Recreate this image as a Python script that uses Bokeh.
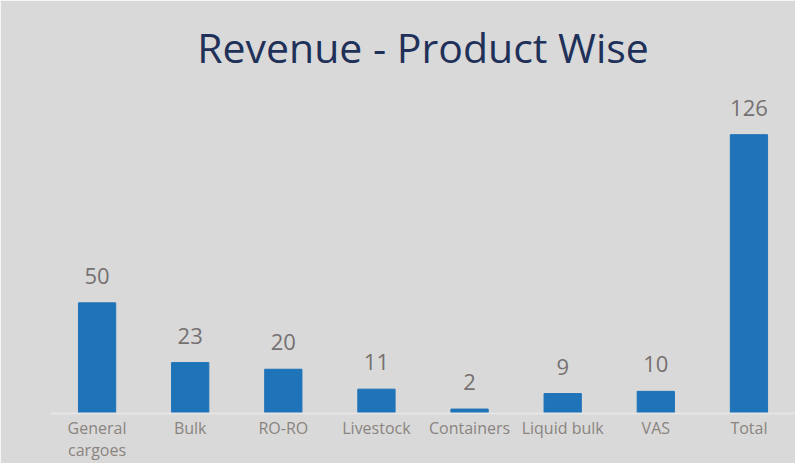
from bokeh.plotting import figure
from bokeh.models import ColumnDataSource, Range1d
from bokeh.core.properties import value
from bokeh.embed import file_html
from bokeh.resources import INLINE

categories = ["General\ncargoes", "Bulk", "RO-RO", "Livestock", "Containers", "Liquid bulk", "VAS", "Total"]
revenue = [50, 23, 20, 11, 2, 9, 10, 126]
labels = [str(v) for v in revenue]

src = ColumnDataSource(dict(cat=categories, val=revenue, lab=labels))

BG = "#d9d9d9"
p = figure(x_range=categories, y_range=Range1d(0, 153.2), width=795, height=463,
           output_backend="svg", toolbar_location=None,
           background_fill_color=BG, border_fill_color=BG,
           outline_line_color=BG, outline_line_width=2,
           min_border_left=50, min_border_right=0, min_border_top=74, min_border_bottom=40)

p.title.text = "Revenue - Product Wise"
p.title.align = "center"
p.title.offset = -8
p.title.text_font = "Open Sans"
p.title.text_font_style = "normal"
p.title.text_font_size = "41px"
p.title.text_color = "#1f3159"
p.title.standoff = 0

p.vbar(x="cat", top="val", width=0.4, source=src, color="#1f73b8")
p.text(x="cat", y="val", text="lab", source=src, text_align="center",
       text_baseline="alphabetic", y_offset=-27, text_font_size="22px",
       text_font=value("Open Sans"), text_color="#767171")

p.yaxis.visible = False
p.xgrid.grid_line_color = None
p.ygrid.grid_line_color = None
p.xaxis.axis_line_color = "#e6e6e6"
p.xaxis.axis_line_width = 2
p.xaxis.major_tick_line_color = None
p.xaxis.minor_tick_line_color = None
p.xaxis.major_tick_out = 0
p.xaxis.major_tick_in = 0
p.xaxis.major_label_text_font = "Open Sans"
p.xaxis.major_label_text_font_size = "16px"
p.xaxis.major_label_text_line_height = 1.0
p.xaxis.major_label_text_color = "#8a8480"
p.xaxis.major_label_standoff = 3
p.x_range.range_padding = 0

open("out.html", "w").write(file_html(p, INLINE))
